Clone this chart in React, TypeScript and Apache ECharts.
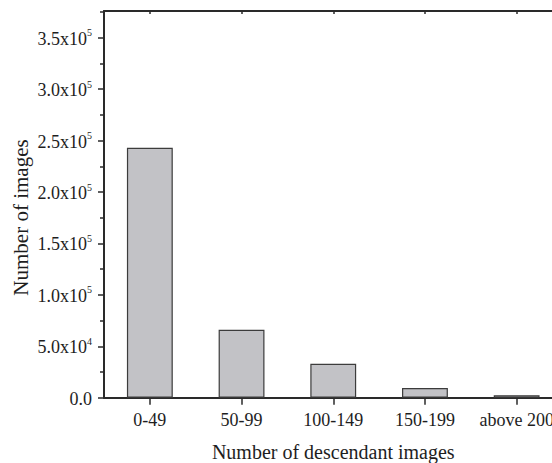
import React, { useEffect, useRef } from "react";
import * as echarts from "echarts";

const categories = ["0-49", "50-99", "100-149", "150-199", "above 200"];
const counts = [243000, 66000, 33000, 9500, 2500];
const yTickValues = [0, 50000, 100000, 150000, 200000, 250000, 300000, 350000];
const xAxisTitle = "Number of descendant images";
const yAxisTitle = "Number of images";

const FONT = "Liberation Serif";
const AXIS_COLOR = "#2a2a2a";
const TEXT_COLOR = "#1e1e1e";

function formatY(v: number): string {
  if (v === 0) return "{b|0.0}";
  const exp = Math.floor(Math.log10(v));
  const mant = v / Math.pow(10, exp);
  return `{b|${mant.toFixed(1)}x10}{s|${exp}}`;
}

export default function App() {
  const ref = useRef<HTMLDivElement>(null);
  useEffect(() => {
    if (!ref.current) return;
    const chart = echarts.init(ref.current, undefined, { renderer: "svg" });
    chart.setOption({
      animation: false,
      backgroundColor: "#ffffff",
      grid: { left: 104, right: -10.5, top: 11, bottom: 65.3, containLabel: false, outerBoundsMode: "none" },
      xAxis: [
        {
          type: "category",
          data: categories,
          position: "bottom",
          boundaryGap: true,
          axisLine: { show: true, onZero: false, lineStyle: { color: AXIS_COLOR, width: 2 } },
          axisTick: { show: true, alignWithLabel: true, inside: false, length: 7, lineStyle: { color: AXIS_COLOR, width: 1.5 } },
          axisLabel: { color: TEXT_COLOR, fontFamily: FONT, fontSize: 18, margin: 13, interval: 0, hideOverlap: false },
          name: xAxisTitle,
          nameLocation: "middle",
          nameGap: 44,
          nameTextStyle: { color: TEXT_COLOR, fontFamily: FONT, fontSize: 20 },
          splitLine: { show: false },
        },
        {
          type: "category",
          data: categories,
          position: "top",
          boundaryGap: true,
          axisLine: { show: true, onZero: false, lineStyle: { color: AXIS_COLOR, width: 2 } },
          axisTick: { show: true, alignWithLabel: true, inside: true, length: 3, lineStyle: { color: AXIS_COLOR, width: 1.5 } },
          axisLabel: { show: false },
          splitLine: { show: false },
        },
      ],
      yAxis: {
        type: "value",
        min: 0,
        max: 376000,
        interval: 50000,
        axisLine: { show: true, onZero: false, lineStyle: { color: AXIS_COLOR, width: 2 } },
        axisTick: { show: true, inside: false, length: 6, lineStyle: { color: AXIS_COLOR, width: 1.5 }, customValues: yTickValues },
        minorTick: { show: true, splitNumber: 2, length: 4, lineStyle: { color: AXIS_COLOR, width: 1.5 } },
        splitLine: { show: false },
        axisLabel: {
          customValues: yTickValues,
          margin: 12,
          formatter: (v: number) => formatY(v),
          rich: {
            b: { fontFamily: FONT, fontSize: 18, color: TEXT_COLOR, lineHeight: 20, verticalAlign: "bottom" },
            s: { fontFamily: FONT, fontSize: 10, color: TEXT_COLOR, lineHeight: 20, verticalAlign: "top", padding: [0, 0, 12, 0] },
          },
        },
      },
      graphic: [
        {
          type: "text",
          x: 21,
          y: 217.5,
          rotation: Math.PI / 2,
          style: {
            text: yAxisTitle,
            fontFamily: FONT,
            fontSize: 21,
            fill: TEXT_COLOR,
            align: "center",
            verticalAlign: "middle",
          },
        },
      ],
      series: [
        {
          type: "bar",
          data: counts,
          barWidth: "50%",
          itemStyle: { color: "#c2c2c6", borderColor: "#3c3c3c", borderWidth: 1.2 },
        },
      ],
    });
    return () => chart.dispose();
  }, []);
  return (
    <div style={{ position: "fixed", left: 0, top: 0, width: 552, height: 463, overflow: "hidden", background: "#fff" }}>
      <div ref={ref} style={{ width: 552, height: 463, overflow: "hidden" }} />
    </div>
  );
}
